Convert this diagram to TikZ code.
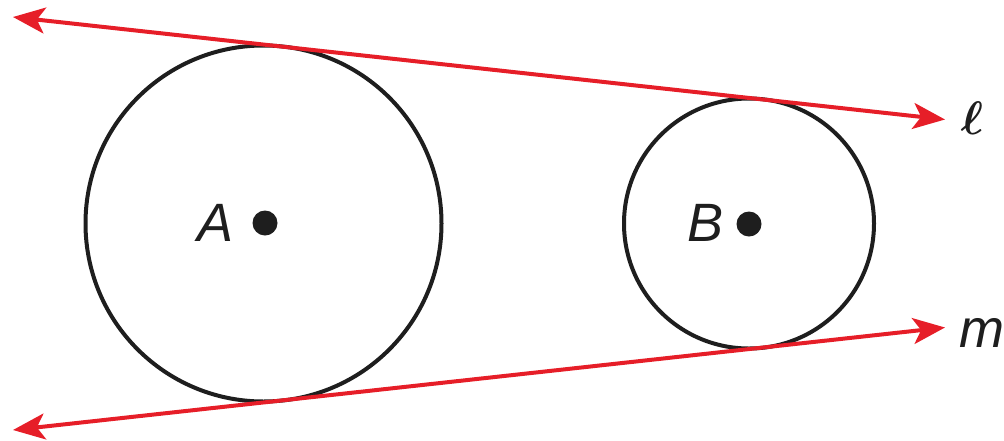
\documentclass[tikz,border=0pt]{standalone}
\usepackage{fontspec}
\usepackage{amsmath}
\setsansfont{Liberation Sans}
\usetikzlibrary{arrows.meta,calc}
\definecolor{tanred}{RGB}{230,30,40}
\definecolor{ink}{RGB}{30,30,30}
\tikzset{
  circ/.style={draw=ink,line width=4pt},
  tangent/.style={draw=tanred,line width=4pt,{Stealth[length=32pt,width=26pt,inset=8pt]}-{Stealth[length=32pt,width=26pt,inset=8pt]}},
  ptdot/.style={circle,fill=ink,inner sep=0pt,minimum size=25pt},
  lab/.style={font=\fontsize{54}{60}\selectfont\sffamily\itshape,text=ink,inner sep=0pt},
}
\begin{document}
\begin{tikzpicture}[x=1pt,y=-1pt]
\useasboundingbox (0,0) rectangle (1004,440);
\coordinate (A) at (263.5,223.5);
\coordinate (B) at (749,223.5);
\draw[circ] (A) circle[radius=178];
\draw[circ] (B) circle[radius=125];
\node[ptdot] (dA) at (265,223) {};
\node[ptdot] (dB) at (749,224) {};
\node[lab] (lA) at (216,223) {A};
\node[lab] (lB) at (706,223) {B};
\coordinate (l1) at (13,17);
\coordinate (l2) at (945,119.5);
\coordinate (m1) at (13,430);
\coordinate (m2) at (945,327.5);
\draw[tangent] (l1) -- (l2);
\draw[tangent] (m1) -- (m2);
\node[inner sep=0pt,text=ink,scale=4.7] (ll) at (972,118) {$\boldsymbol{\ell}$};
\node[lab] (lm) at (982,333) {m};
\end{tikzpicture}
\end{document}
